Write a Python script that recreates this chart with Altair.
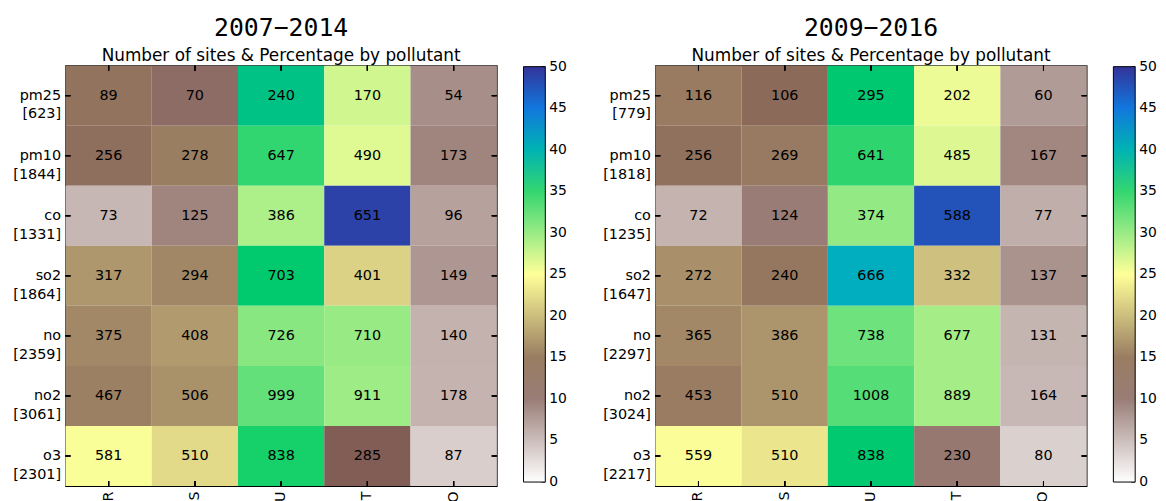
import altair as alt
import pandas as pd

sites = ["R", "S", "U", "T", "O"]
pollutants = ["pm25", "pm10", "co", "so2", "no", "no2", "o3"]

totals_a = [623, 1844, 1331, 1864, 2359, 3061, 2301]
pm25_a = [89, 70, 240, 170, 54]
pm10_a = [256, 278, 647, 490, 173]
co_a = [73, 125, 386, 651, 96]
so2_a = [317, 294, 703, 401, 149]
no_a = [375, 408, 726, 710, 140]
no2_a = [467, 506, 999, 911, 178]
o3_a = [581, 510, 838, 285, 87]

totals_b = [779, 1818, 1235, 1647, 2297, 3024, 2217]
pm25_b = [116, 106, 295, 202, 60]
pm10_b = [256, 269, 641, 485, 167]
co_b = [72, 124, 374, 588, 77]
so2_b = [272, 240, 666, 332, 137]
no_b = [365, 386, 738, 677, 131]
no2_b = [453, 510, 1008, 889, 164]
o3_b = [559, 510, 838, 230, 80]

counts_a = [pm25_a, pm10_a, co_a, so2_a, no_a, no2_a, o3_a]
counts_b = [pm25_b, pm10_b, co_b, so2_b, no_b, no2_b, o3_b]

colorbar_ticks = [0, 5, 10, 15, 20, 25, 30, 35, 40, 45, 50]

# terrain_r colormap stops, 0..50 %
cmap_domain = [0, 12.5, 25, 37.5, 42.5, 50]
cmap_range = ["#ffffff", "#805c54", "#ffff99", "#00cc66", "#0099ff", "#333399"]

FONT = "DejaVu Sans"
W, H = 435, 424
CB_X = W + 27      # colorbar left, relative to plot
CB_T = 1           # colorbar top
CB_LEN = H - 5     # colorbar length
CB_W = 22


def make_df(counts, totals):
    recs = []
    for p, tot, vals in zip(pollutants, totals, counts):
        for s, v in zip(sites, vals):
            recs.append({"row": f"{p}|[{tot}]", "site": s, "count": v,
                         "pct": v / tot * 100.0})
    return pd.DataFrame(recs)


def panel(counts, totals, title):
    df = make_df(counts, totals)
    row_order = [f"{p}|[{t}]" for p, t in zip(pollutants, totals)]
    xaxis = alt.Axis(labelAngle=270, labelFontSize=14.5, labelFont=FONT,
                     labelColor="black", ticks=False, domain=False,
                     labelPadding=5, title=None, grid=False)
    yaxis = alt.Axis(labelExpr="split(datum.label, '|')", labelFontSize=14.5,
                     labelFont=FONT, labelColor="black", ticks=False,
                     domain=False, labelPadding=5, labelLineHeight=19,
                     title=None, grid=False)
    xs = alt.Scale(paddingInner=0, paddingOuter=0)
    ys = alt.Scale(paddingInner=0, paddingOuter=0)
    X = alt.X("site:N", sort=sites, axis=xaxis, scale=xs)
    Y = alt.Y("row:N", sort=row_order, axis=yaxis, scale=ys)
    Xc = alt.X("site:N", sort=sites, axis=xaxis, scale=xs, bandPosition=0.5)
    Yc = alt.Y("row:N", sort=row_order, axis=yaxis, scale=ys, bandPosition=0.5)
    base = alt.Chart(df)
    rect = base.mark_rect().encode(
        x=X, y=Y,
        color=alt.Color("pct:Q",
                        scale=alt.Scale(domain=cmap_domain, range=cmap_range,
                                        interpolate="rgb"),
                        legend=alt.Legend(title=None, orient="none",
                                          legendX=CB_X, legendY=CB_T,
                                          direction="vertical",
                                          gradientLength=CB_LEN,
                                          gradientThickness=CB_W,
                                          gradientStrokeColor="black",
                                          gradientStrokeWidth=1,
                                          values=colorbar_ticks,
                                          labelExpr="''",
                                          labelFontSize=14, labelFont=FONT,
                                          labelOffset=4)),
    )
    text = base.mark_text(fontSize=14.5, font=FONT, color="black").encode(
        x=Xc, y=Yc, text="count:Q")
    tl = base.mark_rule(color="black", strokeWidth=1).encode(
        y=Yc, x=alt.value(0), x2=alt.value(5))
    tr = base.mark_rule(color="black", strokeWidth=1).encode(
        y=Yc, x=alt.value(W - 5), x2=alt.value(W))
    tt = base.mark_rule(color="black", strokeWidth=1).encode(
        x=Xc, y=alt.value(0), y2=alt.value(5))
    tb = base.mark_rule(color="black", strokeWidth=1).encode(
        x=Xc, y=alt.value(H - 5), y2=alt.value(H))
    heat = alt.layer(rect, text, tl, tr, tt, tb)

    cb_df = pd.DataFrame({"v": colorbar_ticks})
    cby = alt.Y("v:Q", axis=None,
                scale=alt.Scale(domain=[0, 50], range=[CB_T + CB_LEN, CB_T]))
    cb_base = alt.Chart(cb_df)
    cbt = cb_base.mark_rule(color="black", strokeWidth=1).encode(
        y=cby, x=alt.value(CB_X + CB_W - 4), x2=alt.value(CB_X + CB_W))
    cbl = cb_base.mark_text(fontSize=14, font=FONT, color="black",
                            align="left", baseline="middle").encode(
        y=cby, x=alt.value(CB_X + CB_W + 4), text="v:Q")
    cb = alt.layer(cbt, cbl)

    return alt.layer(heat, cb).resolve_scale(y="independent").properties(
        width=W, height=H,
        title=alt.TitleParams(text=title,
                              subtitle="Number of sites & Percentage by pollutant",
                              font="DejaVu Sans Mono", fontSize=25,
                              fontWeight="normal", color="black",
                              subtitleFont=FONT, subtitleFontSize=17,
                              subtitleColor="black", anchor="middle",
                              offset=-4, subtitlePadding=7),
    )


p1 = panel(counts_a, totals_a, "2007\u22122014")
p2 = panel(counts_b, totals_b, "2009\u22122016")

chart = alt.hconcat(p1, p2, spacing=34).resolve_scale(
    color="independent").resolve_legend(color="independent").configure_view(
    stroke="black", strokeWidth=1.2).properties(
    padding={"left": 4, "top": 5, "right": 0, "bottom": 0},
    background="white")

chart.save("out.html", embed_options={"renderer": "svg", "actions": False})
